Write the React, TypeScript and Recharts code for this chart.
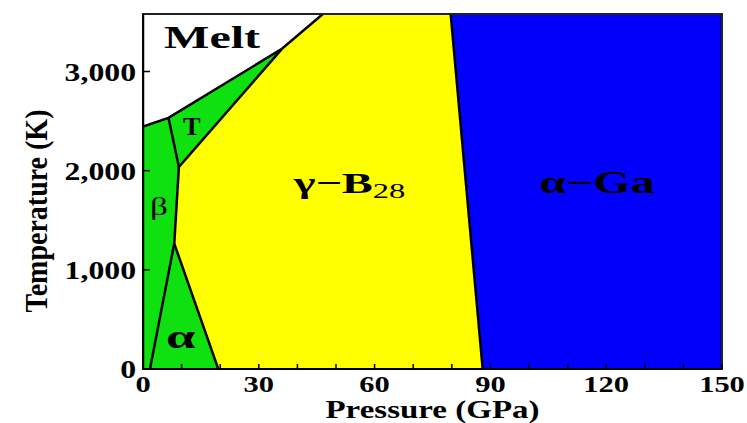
import React from 'react';
import { ComposedChart, Area, Line, XAxis, YAxis, ReferenceArea, ReferenceDot } from 'recharts';

const SERIF = '"Liberation Serif", "Times New Roman", serif';

// Axis ticks
const pressureTicks = [0, 10, 20, 30, 40, 50, 60, 70, 80, 90, 100, 110, 120, 130, 140, 150];
const pressureLabels = [0, 30, 60, 90, 120, 150];
const temperatureTicks = [0, 1000, 2000, 3000];

// Phase regions: each row is a temperature (K) with [low, high] pressure (GPa)
const gammaRegion = [
    { t: 0, p: [0, 150] },
    { t: 3580, p: [0, 150] },
];
const alphaGaRegion = [
    { t: 0, p: [88, 150] },
    { t: 3580, p: [79.7, 150] },
];
// alpha + beta + T phases share one green fill
const lowPressureRegion = [
    { t: 0, p: [0, 19.5] },
    { t: 1265, p: [0, 8.1] },
    { t: 2037, p: [0, 9.3] },
    { t: 3229, p: [0, 36] },
];
const meltRegion = [
    { t: 2446, p: [0, 0] },
    { t: 2533, p: [0, 6.6] },
    { t: 3229, p: [0, 36] },
    { t: 3580, p: [0, 46.6] },
];

// internal phase boundaries inside the green area
const betaTBoundary = [
    { t: 2037, p: 9.3 },
    { t: 2533, p: 6.6 },
];
const betaAlphaBoundary = [
    { t: 0, p: 1.8 },
    { t: 1265, p: 8.1 },
];

const phaseLabels = [
    { text: 'Melt', sub: '', p: 17.9, t: 3233 },
    { text: 'T', sub: '', p: 12.6, t: 2357 },
    { text: 'β', sub: '', p: 4.1, t: 1551 },
    { text: 'α', sub: '', p: 9.8, t: 211 },
    { text: 'γ−B', sub: '28', p: 53.5, t: 1772 },
    { text: 'α−Ga', sub: '', p: 117.6, t: 1772 },
];

const labelStyle: Record<string, { size: number; sx: number; weight: string }> = {
    'Melt': { size: 31, sx: 1.55, weight: 'bold' },
    'T': { size: 25, sx: 1.05, weight: 'bold' },
    'β': { size: 26, sx: 1.35, weight: 'normal' },
    'α': { size: 33, sx: 1.6, weight: 'bold' },
    'γ−B': { size: 30, sx: 1.55, weight: 'bold' },
    'α−Ga': { size: 31, sx: 1.55, weight: 'bold' },
};

const GREEN = '#0fe00f';
const YELLOW = '#ffff00';
const BLUE = '#0000fb';

function PhaseText(props: any) {
    const { viewBox, item } = props;
    if (!viewBox) return null;
    const st = labelStyle[item.text];
    return (
        <text
            transform={`translate(${viewBox.x},${viewBox.y}) scale(${st.sx},1)`}
            textAnchor="middle"
            fontFamily={SERIF}
            fontSize={st.size}
            fontWeight={st.weight}
            fill="#000"
        >
            {item.text}
            {item.sub && (
                <tspan fontSize={21} fontWeight="normal" dy={5}>{item.sub}</tspan>
            )}
        </text>
    );
}

function PressureTick(props: any) {
    const { x, y, payload } = props;
    if (!pressureLabels.includes(payload.value)) return <g />;
    return (
        <text transform={`translate(${x},${y + 23}) scale(1.27,1)`} textAnchor="middle"
            fontFamily={SERIF} fontSize={24} fontWeight="bold" fill="#000">
            {payload.value}
        </text>
    );
}

function TemperatureTick(props: any) {
    const { x, y, payload } = props;
    return (
        <text transform={`translate(${x},${y + 9}) scale(1.27,1)`} textAnchor="end"
            fontFamily={SERIF} fontSize={25} fontWeight="bold" fill="#000">
            {payload.value.toLocaleString('en-US')}
        </text>
    );
}

function PressureTitle(props: any) {
    const vb = props.viewBox || { x: 143, y: 369, width: 579 };
    return (
        <text transform={`translate(${vb.x + vb.width / 2},${vb.y + 49}) scale(1.32,1)`} textAnchor="middle"
            fontFamily={SERIF} fontSize={25} fontWeight="bold" fill="#000">
            Pressure (GPa)
        </text>
    );
}

function TemperatureTitle(props: any) {
    const vb = props.viewBox || { x: 0, y: 14 };
    return (
        <text transform={`translate(${vb.x + 47},${vb.y + 197}) rotate(-90) scale(1,1.12)`} textAnchor="middle"
            fontFamily={SERIF} fontSize={28} fontWeight="bold" fill="#000">
            Temperature (K)
        </text>
    );
}

export default function App() {
    return (
        <div style={{ position: 'absolute', left: 0, top: 0, background: '#fff' }}>
            <ComposedChart
                layout="vertical"
                width={747}
                height={423}
                margin={{ top: 14, right: 25, bottom: 0, left: 0 }}
            >
                <XAxis
                    type="number"
                    domain={[0, 150]}
                    ticks={pressureTicks}
                    allowDataOverflow
                    height={54}
                    tickSize={-5}
                    tickMargin={5}
                    tick={<PressureTick />}
                    tickLine={{ stroke: '#000', strokeWidth: 1.5 }}
                    axisLine={{ stroke: '#000', strokeWidth: 2 }}
                    label={{ content: (p: any) => <PressureTitle {...p} /> }}
                />
                <YAxis
                    type="number"
                    dataKey="t"
                    reversed
                    domain={[0, 3580]}
                    ticks={temperatureTicks}
                    allowDataOverflow
                    width={143}
                    tickSize={-7}
                    tickMargin={14}
                    tick={<TemperatureTick />}
                    tickLine={{ stroke: '#000', strokeWidth: 1.5 }}
                    axisLine={{ stroke: '#000', strokeWidth: 2 }}
                    label={{ content: (p: any) => <TemperatureTitle {...p} /> }}
                />
                <Area data={gammaRegion} dataKey="p" type="linear" fill={YELLOW} fillOpacity={1}
                    stroke="none" dot={false} activeDot={false} isAnimationActive={false} />
                <Area data={alphaGaRegion} dataKey="p" type="linear" fill={BLUE} fillOpacity={1}
                    stroke="#000" strokeWidth={2.5} dot={false} activeDot={false} isAnimationActive={false} />
                <Area data={lowPressureRegion} dataKey="p" type="linear" fill={GREEN} fillOpacity={1}
                    stroke="#000" strokeWidth={2.5} dot={false} activeDot={false} isAnimationActive={false} />
                <Area data={meltRegion} dataKey="p" type="linear" fill="#ffffff" fillOpacity={1}
                    stroke="#000" strokeWidth={2.5} dot={false} activeDot={false} isAnimationActive={false} />
                <Line data={betaTBoundary} dataKey="p" type="linear" stroke="#000" strokeWidth={2.5}
                    dot={false} activeDot={false} isAnimationActive={false} />
                <Line data={betaAlphaBoundary} dataKey="p" type="linear" stroke="#000" strokeWidth={2.5}
                    dot={false} activeDot={false} isAnimationActive={false} />
                <ReferenceArea x1={0} x2={150} y1={0} y2={3580} fill="none" stroke="#222" strokeWidth={2} />
                {phaseLabels.map((item) => (
                    <ReferenceDot key={item.text} x={item.p} y={item.t} r={0} fill="none" stroke="none"
                        label={(lp: any) => <PhaseText {...lp} item={item} />} />
                ))}
            </ComposedChart>
        </div>
    );
}
